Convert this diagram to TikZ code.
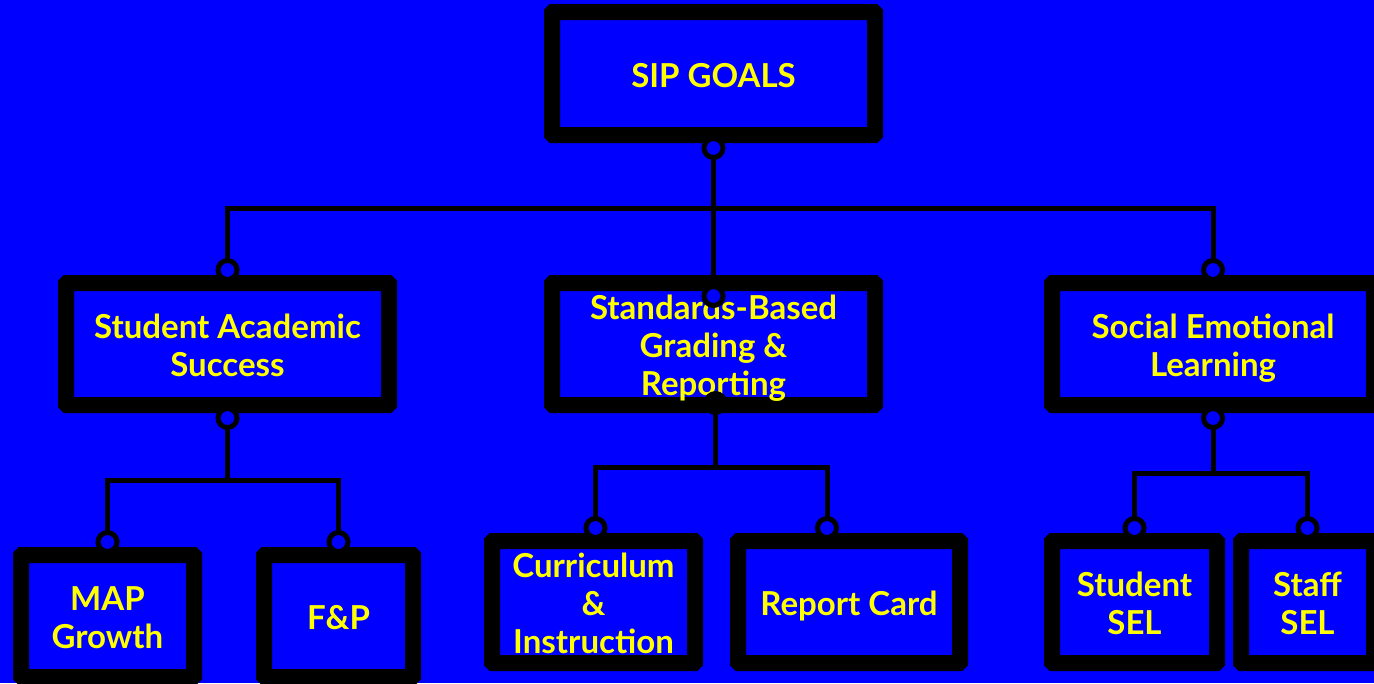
\documentclass[tikz,border=0pt]{standalone}
\usepackage{fontspec}
\setmainfont{Lato}
\usetikzlibrary{calc}
\definecolor{bgblue}{RGB}{0,0,255}
\definecolor{goalyellow}{RGB}{255,255,0}
\newcommand\gstrut{\rule[-5.5pt]{0pt}{38pt}}
\tikzset{
  goalbox/.style={draw=black,fill=bgblue,line width=16pt,rounded corners=1pt,
    inner sep=0pt,outer sep=0pt,align=center,text=goalyellow,
    font=\bfseries\fontsize{33}{38}\selectfont,
    execute at end node=\gstrut},
  wire/.style={draw=black,line width=5pt},
  hook/.style={draw=black,fill=bgblue,line width=5pt},
}
\begin{document}
\begin{tikzpicture}[x=1pt,y=-1pt]
\fill [bgblue] (0,0) rectangle (1374,683);
\useasboundingbox (0,0) rectangle (1374,683);

% top
\node [goalbox,minimum width=323pt,minimum height=123pt] at (713.5,73.5) (sip) {\gstrut SIP GOALS};

% level one
\node [goalbox,minimum width=323pt,minimum height=122pt] at (227.5,344) (acad) {\gstrut Student Academic\\Success};
\node [goalbox,minimum width=323pt,minimum height=122pt] at (713.5,344) (std) {\gstrut Standards-Based\\Grading \&\\Reporting};
\node [goalbox,minimum width=322pt,minimum height=122pt] at (1213,344) (sel) {\gstrut Social Emotional\\Learning};

% level two
\node [goalbox,minimum width=173pt,minimum height=122pt] at (107.5,616) (map) {\gstrut MAP\\Growth};
\node [goalbox,minimum width=149pt,minimum height=122pt] at (338.5,616) (fp) {\gstrut F\&P};
\node [goalbox,minimum width=203pt,minimum height=122pt] at (593.5,602) (cur) {\gstrut Curriculum\\\&\\Instruction};
\node [goalbox,minimum width=222pt,minimum height=122pt] at (849,602) (rep) {\gstrut Report Card};
\node [goalbox,minimum width=165pt,minimum height=122pt] at (1134.5,602) (ssel) {\gstrut Student\\SEL};
\node [goalbox,minimum width=133pt,minimum height=122pt] at (1307.5,602) (tsel) {\gstrut Staff\\SEL};

% hooks
\coordinate (sipb) at ([yshift=-13pt]sip.south);
\coordinate (acadt) at ([yshift=13pt]acad.north);
\coordinate (acadb) at ([yshift=-13pt]acad.south);
\coordinate (stdt) at ([yshift=-13pt]std.north);
\coordinate (stdb) at ([xshift=2pt,yshift=2pt]std.south);
\coordinate (selt) at ([yshift=13pt]sel.north);
\coordinate (selb) at ([yshift=-13pt]sel.south);
\coordinate (mapt) at ([yshift=13pt]map.north);
\coordinate (fpt) at ([yshift=13pt]fp.north);
\coordinate (curt) at ([xshift=2pt,yshift=13pt]cur.north);
\coordinate (rept) at ([xshift=-22pt,yshift=13pt]rep.north);
\coordinate (sselt) at ([yshift=13pt]ssel.north);
\coordinate (tselt) at ([yshift=13pt]tsel.north);

\draw [wire] (sipb) -- (stdt);
\draw [wire] (acadt) |- (713,208) -| (selt);
\draw [wire] (acadb) -- (acadb |- 0,480);
\draw [wire] (mapt) |- (acadb |- 0,480) -| (fpt);
\draw [wire] (stdb) -- (stdb |- 0,467);
\draw [wire] (curt) |- (stdb |- 0,467) -| (rept);
\draw [wire] (selb) -- (selb |- 0,473);
\draw [wire] (sselt) |- (selb |- 0,473) -| (tselt);

\foreach \h in {sipb,acadt,acadb,stdt,selt,selb,mapt,fpt,curt,rept,sselt,tselt}
  \draw [hook] (\h) circle (9.5pt);
\fill [black] (stdb) circle (12pt);

\end{tikzpicture}
\end{document}
